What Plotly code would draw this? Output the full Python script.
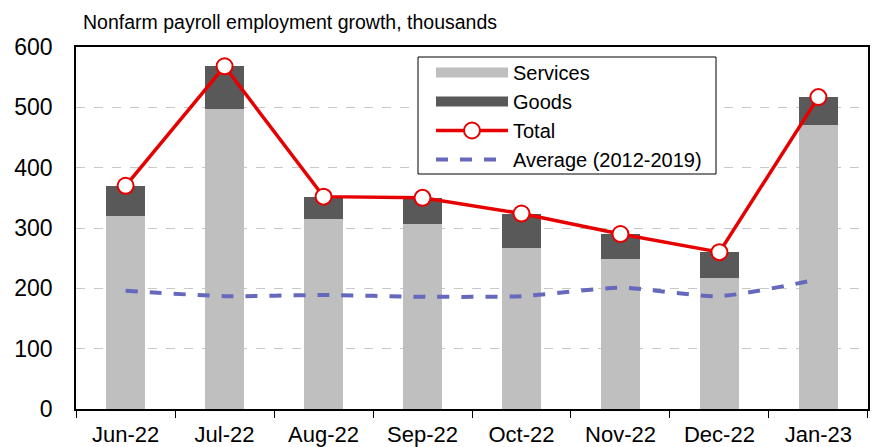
import plotly.graph_objects as go

months = ["Jun-22", "Jul-22", "Aug-22", "Sep-22", "Oct-22", "Nov-22", "Dec-22", "Jan-23"]
services = [320, 498, 315, 307, 267, 249, 217, 471]
goods = [50, 70, 37, 43, 57, 41, 43, 46]
total = [370, 568, 352, 350, 324, 290, 260, 517]
average = [196, 187, 189, 186, 187, 201, 187, 215]
y_ticks = [0, 100, 200, 300, 400, 500, 600]

SERV_C = "#BFBFBF"
GOOD_C = "#595959"
TOT_C = "#E60000"
AVG_C = "#6668BC"
FONT = "Liberation Sans, Arial, sans-serif"

# plot area in pixels
L, R, T, B = 76, 868, 47, 409
PW, PH = R - L, B - T

def px_x(x):
    return (x - L) / PW

def px_y(y):
    return (B - y) / PH

fig = go.Figure()
fig.add_trace(go.Bar(x=months, y=services, marker=dict(color=SERV_C, line=dict(width=0)),
                     width=0.4, showlegend=False, name="Services"))
fig.add_trace(go.Bar(x=months, y=goods, marker=dict(color=GOOD_C, line=dict(width=0)),
                     width=0.4, showlegend=False, name="Goods"))
fig.add_trace(go.Scatter(x=months, y=average, mode="lines", name="Average (2012-2019)",
                         line=dict(color=AVG_C, width=4, dash="dash", shape="spline", smoothing=0.6),
                         showlegend=False))
fig.add_trace(go.Scatter(x=months, y=total, mode="lines+markers", name="Total",
                         line=dict(color=TOT_C, width=3.5),
                         marker=dict(symbol="circle", size=16, color="white",
                                     line=dict(color=TOT_C, width=2)),
                         showlegend=False))
# legend entries
fig.add_trace(go.Scatter(x=[None], y=[None], mode="lines", name="Services",
                         line=dict(color=SERV_C, width=11)))
fig.add_trace(go.Scatter(x=[None], y=[None], mode="lines", name="Goods",
                         line=dict(color=GOOD_C, width=11)))
fig.add_trace(go.Scatter(x=[None], y=[None], mode="lines+markers", name="Total",
                         line=dict(color=TOT_C, width=3.5),
                         marker=dict(symbol="circle", size=16, color="white",
                                     line=dict(color=TOT_C, width=2))))
fig.add_trace(go.Scatter(x=[None], y=[None], mode="lines", name="Average (2012-2019)",
                         line=dict(color=AVG_C, width=4, dash="dash")))

# legend box
fig.add_shape(type="rect", xref="paper", yref="paper",
              x0=px_x(418), x1=px_x(716), y0=px_y(174), y1=px_y(57),
              fillcolor="white", line=dict(color="black", width=1), layer="above")

fig.update_layout(
    width=874, height=447,
    barmode="stack",
    plot_bgcolor="white", paper_bgcolor="white",
    margin=dict(l=L, r=874 - R, t=T, b=447 - B),
    font=dict(family=FONT, size=21, color="black"),
    title=dict(text="Nonfarm payroll employment growth, thousands",
               x=83/874, xanchor="left", y=1 - 22/447, yanchor="middle",
               font=dict(family=FONT, size=19.5, color="black")),
    legend=dict(x=px_x(431), y=px_y(53), xanchor="left", yanchor="top",
                bgcolor="rgba(0,0,0,0)", borderwidth=0,
                font=dict(family=FONT, size=20), itemwidth=72,
                tracegroupgap=0, traceorder="normal"),
    xaxis=dict(type="category", showline=True, linecolor="black", linewidth=1.5,
               mirror=True, ticks="outside", ticklen=7, tickcolor="black",
               tickson="boundaries", showgrid=False, tickfont=dict(size=22),
               ticklabelstandoff=5, automargin=False),
    yaxis=dict(range=[0, 600], tickvals=y_ticks, showline=True, linecolor="black",
               linewidth=1.5, mirror=True, ticks="", showgrid=True,
               gridcolor="#C8C8C8", griddash="dash", gridwidth=1,
               ticklabelstandoff=17, zeroline=False, tickfont=dict(size=23),
               automargin=False),
)

fig.write_html("out.html", config={"displayModeBar": False},
               post_script="document.body.style.margin='0';document.body.style.overflow='hidden';")
